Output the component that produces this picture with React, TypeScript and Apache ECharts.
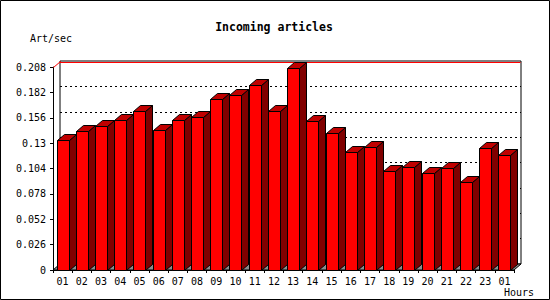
import React, { useEffect, useRef } from "react";
import * as echarts from "echarts";

const HOURS: string[] = [
  "01", "02", "03", "04", "05", "06", "07", "08", "09", "10", "11", "12",
  "13", "14", "15", "16", "17", "18", "19", "20", "21", "22", "23", "01",
];
const ART_PER_SEC: number[] = [
  0.1332, 0.1424, 0.1472, 0.1534, 0.1629, 0.1434, 0.1534, 0.1564, 0.1749, 0.1793, 0.1892, 0.1629,
  0.2066, 0.1527, 0.1404, 0.1209, 0.1257, 0.1011, 0.1055, 0.0991, 0.1045, 0.0898, 0.1247, 0.1175,
];
const Y_MIN = 0;
const Y_MAX = 0.208;
const Y_STEP = 0.026;

const TITLE = "Incoming articles";
const Y_NAME = "Art/sec";
const X_NAME = "Hours";

// layout
const W = 550;
const H = 300;
const LEFT = 53;
const TOP = 67;
const PW = 461;
const PH = 203;
const DX = 7;
const DY = 6;
const BAR_RATIO = 0.625;
const FONT = "DejaVu Sans Mono";

export default function App() {
  const ref = useRef<HTMLDivElement>(null);
  useEffect(() => {
    if (!ref.current) return;
    const chart = echarts.init(ref.current, null, { renderer: "svg" });
    const bottom = TOP + PH;
    const option: any = {
      animation: false,
      backgroundColor: "#fff",
      grid: [
        { left: LEFT, top: TOP, width: PW, height: PH },
        {
          left: LEFT + DX, top: TOP - DY, width: PW, height: PH,
          show: true, backgroundColor: "#fff", borderColor: "#000", borderWidth: 1,
        },
      ],
      xAxis: [
        {
          type: "category", gridIndex: 0, data: HOURS,
          axisLine: { lineStyle: { color: "#000", width: 1 } },
          axisTick: { show: true, length: 3, lineStyle: { color: "#000" } },
          axisLabel: { interval: 0, color: "#000", fontFamily: FONT, fontSize: 10, margin: 6 },
          splitLine: { show: false },
        },
        { type: "category", gridIndex: 1, data: HOURS, show: false },
      ],
      yAxis: [
        {
          type: "value", gridIndex: 0, min: Y_MIN, max: Y_MAX, interval: Y_STEP,
          axisLine: { show: true, lineStyle: { color: "#000", width: 1 } },
          axisTick: { show: true, length: 3, lineStyle: { color: "#000" } },
          axisLabel: { color: "#000", fontFamily: FONT, fontSize: 10, margin: 7 },
          splitLine: { show: false },
        },
        {
          type: "value", gridIndex: 1, min: Y_MIN, max: Y_MAX, interval: Y_STEP,
          axisLine: { show: false }, axisTick: { show: false }, axisLabel: { show: false },
          splitLine: {
            show: true, showMinLine: false, showMaxLine: false,
            lineStyle: { color: "#000", width: 1, type: [2, 3] },
          },
        },
      ],
      graphic: [
        {
          type: "rect", z: 0, silent: true,
          shape: { x: 0.5, y: 0.5, width: W - 1, height: H - 1 },
          style: { fill: "none", stroke: "#000", lineWidth: 1 },
        },
        {
          type: "text", z: 5, x: 274, y: 27,
          style: { text: TITLE, font: `bold 11.5px "${FONT}"`, fill: "#000", align: "center", verticalAlign: "middle" },
        },
        {
          type: "text", z: 5, x: 30, y: 38,
          style: { text: Y_NAME, font: `10px "${FONT}"`, fill: "#000", align: "left", verticalAlign: "middle" },
        },
        {
          type: "text", z: 5, x: 519, y: 292,
          style: { text: X_NAME, font: `10px "${FONT}"`, fill: "#000", align: "center", verticalAlign: "middle" },
        },
        {
          type: "polygon", z: 1, silent: true,
          shape: { points: [[LEFT, bottom], [LEFT + DX, bottom - DY], [LEFT + PW + DX, bottom - DY], [LEFT + PW, bottom]] },
          style: { fill: "#8c8c8c", stroke: "#000", lineWidth: 1 },
        },
        {
          type: "line", z: 1, silent: true,
          shape: { x1: LEFT + DX, y1: TOP - DY + 1.5, x2: LEFT + PW + DX - 0.5, y2: TOP - DY + 1.5 },
          style: { stroke: "#ff0000", lineWidth: 1 },
        },
        {
          type: "line", z: 1, silent: true,
          shape: { x1: LEFT + 0.5, y1: TOP + 0.5, x2: LEFT + DX + 0.5, y2: TOP - DY + 0.5 },
          style: { stroke: "#ff0000", lineWidth: 1 },
        },
      ],
      series: [
        {
          type: "custom",
          xAxisIndex: 0, yAxisIndex: 0, z: 3,
          data: ART_PER_SEC.map((v, i) => [i, v]),
          encode: { x: 0, y: 1 },
          renderItem: (params: any, api: any) => {
            const idx = api.value(0);
            const v = api.value(1);
            const top = api.coord([idx, v]);
            const base = api.coord([idx, 0]);
            const band = api.size([1, 0])[0];
            const w = Math.round(band * BAR_RATIO);
            const x0 = Math.round(top[0] - w / 2) + 0.5;
            const x1 = x0 + w;
            const yt = Math.round(top[1]) + 0.5;
            const yb = Math.round(base[1]) + 0.5;
            const stroke = { stroke: "#000", lineWidth: 1, lineJoin: "miter" };
            return {
              type: "group",
              children: [
                {
                  type: "polygon",
                  shape: { points: [[x1, yt], [x1 + DX, yt - DY], [x1 + DX, yb - DY], [x1, yb]] },
                  style: { fill: "#800000", ...stroke },
                },
                {
                  type: "polygon",
                  shape: { points: [[x0, yt], [x0 + DX, yt - DY], [x1 + DX, yt - DY], [x1, yt]] },
                  style: { fill: "#c00000", ...stroke },
                },
                {
                  type: "rect",
                  shape: { x: x0, y: yt, width: w, height: yb - yt },
                  style: { fill: "#ff0000", ...stroke },
                },
              ],
            };
          },
        },
      ],
    };
    chart.setOption(option);
    return () => chart.dispose();
  }, []);
  return (
    <div
      ref={ref}
      style={{ position: "fixed", left: 0, top: 0, width: W, height: H }}
    />
  );
}
